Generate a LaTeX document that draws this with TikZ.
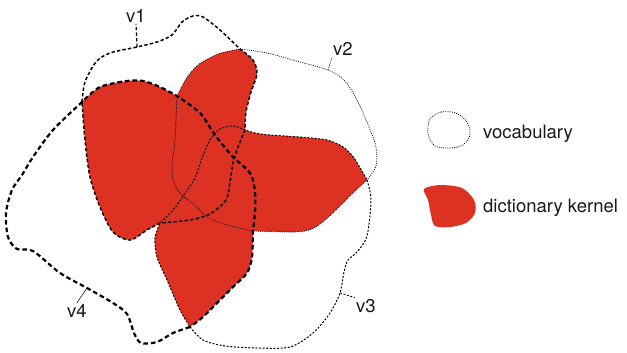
\documentclass[tikz,border=0pt]{standalone}
\usepackage{fontspec}
\setmainfont{TeX Gyre Heros}
\definecolor{kernelred}{RGB}{221,49,36}

\begin{document}
\begin{tikzpicture}[x=1pt,y=-1pt,font=\fontsize{18.5}{22}\selectfont,
  voc1/.style={line width=1.5pt,dash pattern=on 3.4pt off 2.2pt},
  voc2/.style={line width=0.7pt,dash pattern=on 1pt off 1.2pt},
  voc3/.style={line width=1pt,dash pattern=on 2pt off 1.6pt},
  voc4/.style={line width=2.2pt,dash pattern=on 4.6pt off 3pt},
  kernel/.style={fill=kernelred},
  lab/.style={inner sep=1pt,text=black!90,anchor=base},
  % outer arcs of the four vocabularies
  outer1/.style={insert path={-- plot[smooth] coordinates {(A) (85,82) (96,62) (110,53) (137,47) (157,42) (172,35) (182,22) (193,16) (203,17) (220,30) (E)}}},
  outer2/.style={insert path={-- plot[smooth] coordinates {(E) (267,53) (300,62) (328,70) (344,80) (357,100) (369,127) (376,147) (376,166) (I)}}},
  outer3/.style={insert path={-- plot[smooth] coordinates {(I) (371,200) (367,236) (357,252) (348,260) (344,272) (340,293) (330,313) (313,333) (290,347) (257,348) (225,346) (203,340) (D)}}},
  outer4/.style={insert path={-- plot[smooth] coordinates {(D) (173,333) (157,342) (141,343) (134,333) (127,314) (113,303) (87,288) (60,273) (33,251) (17,249) (8,237) (6,213) (12,190) (22,175) (33,157) (53,130) (A)}}},
  % petal edges (outline of the kernel)
  edgeAB/.style={insert path={-- plot[smooth] coordinates {(A) (100,87) (127,81) (143,81) (160,87) (B)}}},
  edgeBE/.style={insert path={-- plot[smooth] coordinates {(B) (186,79) (198,65) (218,54) (E)}}},
  edgeEF/.style={insert path={-- plot[smooth] coordinates {(E) (253,60) (257,74) (251,92) (246,112) (F)}}},
  edgeFI/.style={insert path={-- plot[smooth] coordinates {(F) (255,133) (270,135) (300,137) (327,140) (343,147) (354,158) (I)}}},
  edgeIC/.style={insert path={-- plot[smooth] coordinates {(I) (354,192) (340,206) (325,220) (312,229) (295,232) (C)}}},
  edgeCD/.style={insert path={-- plot[smooth] coordinates {(C) (252,257) (247,273) (233,287) (217,303) (203,317) (D)}}},
  edgeDG/.style={insert path={-- plot[smooth] coordinates {(D) (180,310) (167,280) (157,257) (155,238) (G)}}},
  edgeGA/.style={insert path={-- plot[smooth] coordinates {(G) (147,230) (130,240) (113,232) (100,207) (90,177) (85,140) (A)}}},
  % inner curves crossing the kernel
  inner1/.style={insert path={-- plot[smooth] coordinates {(F) (238,147) (233,163) (230,182) (226,200) (210,214) (190,220) (G)}}},
  inner2/.style={insert path={-- plot[smooth] coordinates {(C) (227,225) (207,217) (195,205) (182,195) (174,183) (172,167) (175,140) (B)}}},
  inner3/.style={insert path={-- plot[smooth] coordinates {(G) (173,210) (184,195) (195,178) (202,158) (210,140) (220,129) (233,126) (F)}}},
  inner4/.style={insert path={-- plot[smooth] coordinates {(B) (200,113) (215,135) (233,157) (250,173) (255,192) (255,212) (C)}}}]
  \useasboundingbox (0,0) rectangle (627,353);

  % corners where the curves meet
  \coordinate (A) at (82,102);
  \coordinate (B) at (177,96);
  \coordinate (C) at (253,231);
  \coordinate (D) at (190,327);
  \coordinate (E) at (240,49);
  \coordinate (F) at (245,130);
  \coordinate (G) at (160,223);
  \coordinate (I) at (367,180);

  % the kernel
  \fill[kernel] (A) [edgeAB,edgeBE,edgeEF,edgeFI,edgeIC,edgeCD,edgeDG,edgeGA] -- cycle;

  % the four vocabularies
  \draw[voc2] (E) [outer2,edgeIC,inner2,edgeBE] -- cycle;
  \draw[voc3] (I) [outer3,edgeDG,inner3,edgeFI] -- cycle;
  \draw[voc1] (A) [outer1,edgeEF,inner1,edgeGA] -- cycle;
  \draw[voc4] (D) [outer4,edgeAB,inner4,edgeCD] -- cycle;

  % labels
  \coordinate (t1) at (137,47);
  \coordinate (t2) at (328,70);
  \coordinate (t3) at (340,293);
  \coordinate (t4) at (87,288);
  \node[lab] (v1lab) at (136,23) {v1};
  \node[lab] (v2lab) at (343,56) {v2};
  \node[lab] (v3lab) at (366,312) {v3};
  \node[lab] (v4lab) at (77,317) {v4};
  \draw[voc1,line width=1.2pt] (t1) -- (v1lab.south);
  \draw[voc2] (t2) -- (v2lab.south west);
  \draw[voc3,line width=0.8pt] (t3) -- (v3lab.north west);
  \draw[line width=0.5pt] (t4) -- (v4lab.north);

  % legend
  \draw[voc2] plot[smooth cycle] coordinates {(430,119) (441,112) (456,113) (467,122) (470,135) (463,145) (450,148) (435,146) (428,134)};
  \node[lab,anchor=base west,inner sep=0pt] (vocabtxt) at (483,138) {vocabulary};
  \fill[kernel] plot[smooth cycle] coordinates {(424,189) (440,185) (462,188) (474,200) (475,213) (466,223) (450,227) (435,226) (431,215) (428,200)};
  \node[lab,anchor=base west,inner sep=0pt] (kerneltxt) at (483,212) {dictionary kernel};
\end{tikzpicture}
\end{document}
